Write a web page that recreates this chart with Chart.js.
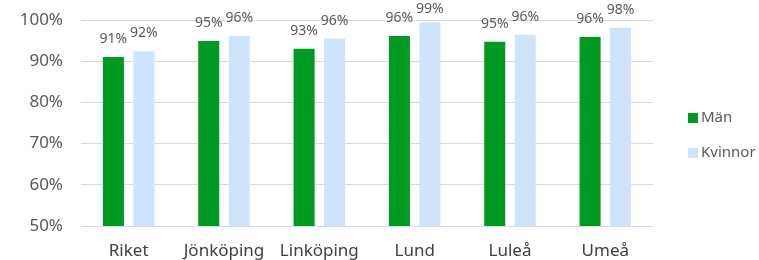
<!DOCTYPE html>
<html>
<head>
<meta charset="utf-8">
<script src="https://cdn.jsdelivr.net/npm/chart.js@4.4.1/dist/chart.umd.min.js"></script>
<style>
  html,body{margin:0;padding:0;background:#fff;}
  #wrap{width:759px;height:260px;position:relative;}
</style>
</head>
<body>
<div id="wrap"><canvas id="barChart"></canvas></div>
<script>
var categories = ["Riket", "Jönköping", "Linköping", "Lund", "Luleå", "Umeå"];
var man = [91.0, 94.9, 93.0, 96.1, 94.7, 95.9];
var kvinnor = [92.4, 96.1, 95.5, 99.4, 96.4, 98.1];
var seriesNames = ["Män", "Kvinnor"];
var yTicks = [50, 60, 70, 80, 90, 100];

var FONT = "'Noto Sans', 'Open Sans', sans-serif";

// value labels above each bar
var barLabels = {
  id: 'barLabels',
  afterDatasetsDraw: function(chart){
    var ctx = chart.ctx;
    ctx.save();
    ctx.font = "14px " + FONT;
    ctx.fillStyle = "#595959";
    ctx.textAlign = "center";
    ctx.textBaseline = "alphabetic";
    chart.data.datasets.forEach(function(ds, i){
      chart.getDatasetMeta(i).data.forEach(function(bar, j){
        var y = Math.max(bar.y - 14, 13);
        ctx.fillText(Math.round(ds.data[j]) + "%", bar.x, y);
      });
    });
    ctx.restore();
  }
};

// legend drawn on the right, vertically stacked
var sideLegend = {
  id: 'sideLegend',
  afterDraw: function(chart){
    var ctx = chart.ctx;
    var x = 688, y0 = 118, step = 35;
    ctx.save();
    ctx.font = "15px " + FONT;
    ctx.textBaseline = "middle";
    ctx.textAlign = "left";
    chart.data.datasets.forEach(function(ds, i){
      var y = y0 + i*step;
      ctx.fillStyle = ds.backgroundColor;
      ctx.fillRect(x, y - 5, 10, 10);
      ctx.fillStyle = "#595959";
      ctx.fillText(ds.label, x + 13, y);
    });
    ctx.restore();
  }
};

var ctx = document.getElementById("barChart").getContext('2d');
var myBarChart = new Chart(ctx, {
  type: 'bar',
  data: {
    labels: categories,
    datasets: [
      {label: seriesNames[0], data: man, backgroundColor: '#009A22'},
      {label: seriesNames[1], data: kvinnor, backgroundColor: '#CFE4FA'}
    ]
  },
  options: {
    responsive: true,
    maintainAspectRatio: false,
    animation: false,
    categoryPercentage: 0.64,
    barPercentage: 0.69,
    layout: {padding: {top: 20, right: 106, left: 0, bottom: 0}},
    plugins: {legend: {display: false}, tooltip: {enabled: false}},
    scales: {
      x: {
        grid: {display: false, drawTicks: false},
        border: {display: false},
        ticks: {color: '#404040', font: {family: FONT, size: 17}, padding: 15, maxRotation: 0, autoSkip: false},
        afterFit: function(s){ s.height = 34; s.paddingLeft = 0; s.paddingRight = 0; }
      },
      y: {
        min: 50, max: 100,
        afterBuildTicks: function(s){ s.ticks = yTicks.map(function(v){ return {value: v}; }); },
        grid: {color: '#D9D9D9', drawTicks: false, lineWidth: 1},
        border: {display: false},
        ticks: {color: '#595959', font: {family: FONT, size: 17}, padding: 18,
          callback: function(v){ return v + "%"; }},
        afterFit: function(s){ s.width = 81; s.paddingTop = 0; s.paddingBottom = 0; }
      }
    }
  },
  plugins: [barLabels, sideLegend]
});
</script>
</body>
</html>
